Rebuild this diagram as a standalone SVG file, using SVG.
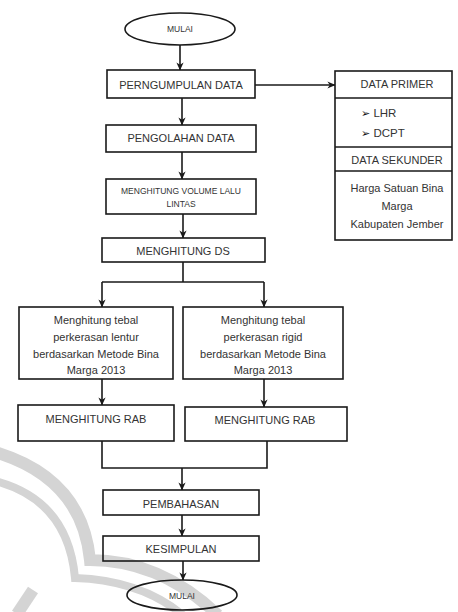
<svg xmlns="http://www.w3.org/2000/svg" width="458" height="612" viewBox="0 0 458 612">
<defs>
<marker id="ah" viewBox="0 0 10 10" refX="9.5" refY="5" markerWidth="8" markerHeight="8" markerUnits="userSpaceOnUse" orient="auto">
<path d="M0,0.5 L10,5 L0,9.5 L3,5 z" fill="#1a1a1a"/>
</marker>
<style>
.b{fill:none;stroke:#1a1a1a;stroke-width:1.6}
.t{font-family:"Liberation Sans","DejaVu Sans",sans-serif;font-size:11px;fill:#333;text-anchor:middle}
.s{font-size:8.5px}
.c{fill:none;stroke:#1a1a1a;stroke-width:1.6}
.a{marker-end:url(#ah)}
.w{fill:none;stroke:#d4d4d4;stroke-linecap:butt}
</style>
</defs>
<rect width="458" height="612" fill="#fff"/>
<g id="watermark">
<path class="w" d="M-5,452 Q82,478 90,560 Q160,560 218,615" stroke-width="12"/>
<path class="w" d="M-5,481 Q68,500 75,578 Q140,580 183,615" stroke-width="8"/>
<path class="w" d="M17,614 L33,590" stroke-width="12"/>
</g>
<g id="connectors">
<path class="c a" d="M180,45 V70"/>
<path class="c a" d="M255,85 H335"/>
<path class="c a" d="M182,98 V125"/>
<path class="c a" d="M182,152 V179"/>
<path class="c a" d="M183,214 V238"/>
<path class="c" d="M183,262 V282 M102,282 H264"/>
<path class="c a" d="M102,282 V307"/>
<path class="c a" d="M264,282 V307"/>
<path class="c a" d="M102,379 V405"/>
<path class="c a" d="M264,379 V407"/>
<path class="c" d="M102,441 V468 H267 V441"/>
<path class="c a" d="M182,468 V490"/>
<path class="c a" d="M182,515 V536"/>
<path class="c a" d="M183,561 V580"/>
</g>
<g id="start">
<ellipse class="b" cx="180" cy="29" rx="55" ry="16"/>
<text class="t s" x="180" y="32">MULAI</text>
</g>
<g id="pengumpulan">
<rect class="b" x="107" y="70" width="148" height="28"/>
<text class="t" x="181" y="89">PERNGUMPULAN DATA</text>
</g>
<g id="data">
<rect class="b" x="335" y="71" width="117" height="169"/>
<path class="b" d="M335,98 H452 M335,171 H452"/>
<path class="b" d="M335,147 H452" stroke-width="2.6"/>
<text class="t" x="397" y="88">DATA PRIMER</text>
<text class="t" x="361" y="117" style="text-anchor:start;font-size:11.5px"><tspan font-family="DejaVu Sans" font-size="11" fill="#111">➢</tspan> LHR</text>
<text class="t" x="361" y="137" style="text-anchor:start;font-size:11.5px"><tspan font-family="DejaVu Sans" font-size="11" fill="#111">➢</tspan> DCPT</text>
<text class="t" x="397" y="164">DATA SEKUNDER</text>
<text class="t" x="397" y="192">Harga Satuan Bina</text>
<text class="t" x="397" y="210">Marga</text>
<text class="t" x="397" y="228">Kabupaten Jember</text>
</g>
<g id="pengolahan">
<rect class="b" x="106" y="125" width="150" height="27"/>
<text class="t" x="181" y="142">PENGOLAHAN DATA</text>
</g>
<g id="volume">
<rect class="b" x="106" y="179" width="150" height="35"/>
<text class="t s" x="181" y="194">MENGHITUNG VOLUME LALU</text>
<text class="t s" x="181" y="207">LINTAS</text>
</g>
<g id="ds">
<rect class="b" x="102" y="238" width="163" height="24"/>
<text class="t" x="183" y="255">MENGHITUNG DS</text>
</g>
<g id="lentur">
<rect class="b" x="19" y="307" width="154" height="72"/>
<text class="t" x="96" y="324">Menghitung tebal</text>
<text class="t" x="96" y="341">perkerasan lentur</text>
<text class="t" x="96" y="358">berdasarkan Metode Bina</text>
<text class="t" x="96" y="374">Marga 2013</text>
</g>
<g id="rigid">
<rect class="b" x="183" y="307" width="160" height="72"/>
<text class="t" x="263" y="324">Menghitung tebal</text>
<text class="t" x="263" y="341">perkerasan rigid</text>
<text class="t" x="263" y="358">berdasarkan Metode Bina</text>
<text class="t" x="263" y="374">Marga 2013</text>
</g>
<g id="rab1">
<rect class="b" x="18" y="405" width="156" height="36"/>
<text class="t" x="96" y="423">MENGHITUNG RAB</text>
</g>
<g id="rab2">
<rect class="b" x="185" y="407" width="162" height="34"/>
<text class="t" x="265" y="424">MENGHITUNG RAB</text>
</g>
<g id="pembahasan">
<rect class="b" x="103" y="490" width="156" height="25"/>
<text class="t" x="181" y="508">PEMBAHASAN</text>
</g>
<g id="kesimpulan">
<rect class="b" x="103" y="536" width="156" height="25"/>
<text class="t" x="181" y="553">KESIMPULAN</text>
</g>
<g id="end">
<ellipse class="b" cx="182" cy="595" rx="55" ry="15"/>
<text class="t s" x="182" y="599">MULAI</text>
</g>
</svg>
